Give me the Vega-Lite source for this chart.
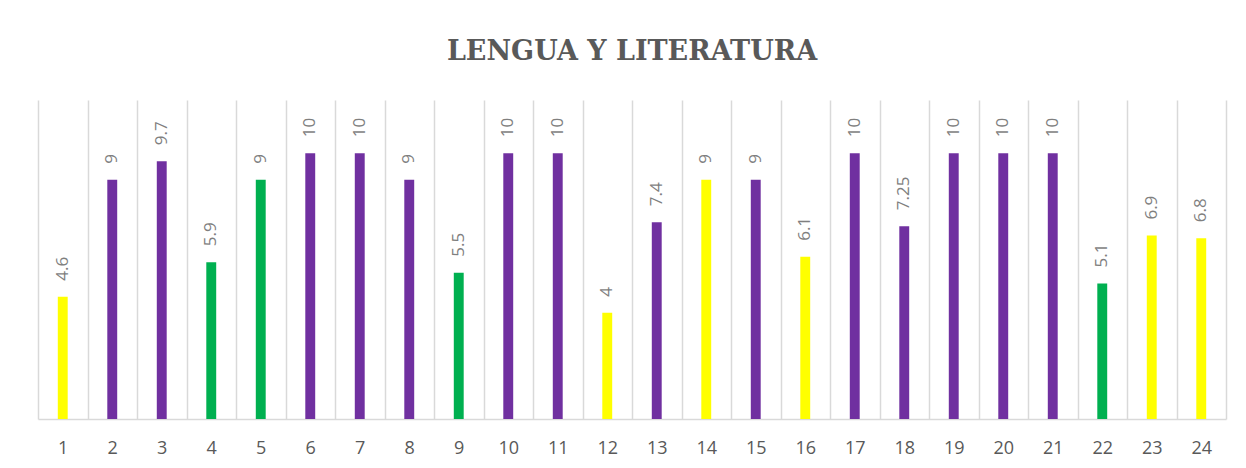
{
  "$schema": "https://vega.github.io/schema/vega-lite/v6.json",
  "width": 1188,
  "height": 319,
  "autosize": {"type": "none"},
  "padding": {"left": 38, "top": 100, "right": 20, "bottom": 49},
  "background": "#ffffff",
  "title": {
    "text": "LENGUA Y LITERATURA",
    "font": "DejaVu Serif",
    "fontSize": 27,
    "fontWeight": "bold",
    "color": "#595959",
    "anchor": "middle",
    "offset": 34
  },
  "data": {
    "values": [
      {"n": 1, "nota": 4.6, "grupo": "amarillo"},
      {"n": 2, "nota": 9, "grupo": "morado"},
      {"n": 3, "nota": 9.7, "grupo": "morado"},
      {"n": 4, "nota": 5.9, "grupo": "verde"},
      {"n": 5, "nota": 9, "grupo": "verde"},
      {"n": 6, "nota": 10, "grupo": "morado"},
      {"n": 7, "nota": 10, "grupo": "morado"},
      {"n": 8, "nota": 9, "grupo": "morado"},
      {"n": 9, "nota": 5.5, "grupo": "verde"},
      {"n": 10, "nota": 10, "grupo": "morado"},
      {"n": 11, "nota": 10, "grupo": "morado"},
      {"n": 12, "nota": 4, "grupo": "amarillo"},
      {"n": 13, "nota": 7.4, "grupo": "morado"},
      {"n": 14, "nota": 9, "grupo": "amarillo"},
      {"n": 15, "nota": 9, "grupo": "morado"},
      {"n": 16, "nota": 6.1, "grupo": "amarillo"},
      {"n": 17, "nota": 10, "grupo": "morado"},
      {"n": 18, "nota": 7.25, "grupo": "morado"},
      {"n": 19, "nota": 10, "grupo": "morado"},
      {"n": 20, "nota": 10, "grupo": "morado"},
      {"n": 21, "nota": 10, "grupo": "morado"},
      {"n": 22, "nota": 5.1, "grupo": "verde"},
      {"n": 23, "nota": 6.9, "grupo": "amarillo"},
      {"n": 24, "nota": 6.8, "grupo": "amarillo"}
    ]
  },
  "encoding": {
    "x": {
      "field": "n",
      "type": "ordinal",
      "scale": {"paddingInner": 0, "paddingOuter": 0},
      "axis": {
        "title": null,
        "labelAngle": 0,
        "labelFont": "Open Sans",
        "labelFontSize": 18,
        "labelColor": "#595959",
        "labelPadding": 20,
        "ticks": false,
        "domain": true,
        "domainColor": "#d9d9d9",
        "domainWidth": 1.5,
        "grid": true,
        "gridColor": "#d9d9d9",
        "gridWidth": 1.5,
        "tickBand": "extent"
      }
    },
    "y": {
      "field": "nota",
      "type": "quantitative",
      "scale": {"domain": [0, 12], "nice": false},
      "axis": null
    }
  },
  "layer": [
    {
      "mark": {"type": "bar", "width": {"band": 0.2}},
      "encoding": {
        "color": {
          "field": "grupo",
          "type": "nominal",
          "scale": {"domain": ["morado", "verde", "amarillo"], "range": ["#7030A0", "#00B050", "#FFFF00"]},
          "legend": null
        }
      }
    },
    {
      "mark": {
        "type": "text",
        "angle": 270,
        "align": "left",
        "baseline": "middle",
        "dx": 16,
        "font": "Open Sans",
        "fontSize": 17,
        "color": "#7f7f7f"
      },
      "encoding": {
        "text": {"field": "nota", "type": "quantitative"}
      }
    }
  ],
  "config": {
    "view": {"stroke": null}
  }
}
